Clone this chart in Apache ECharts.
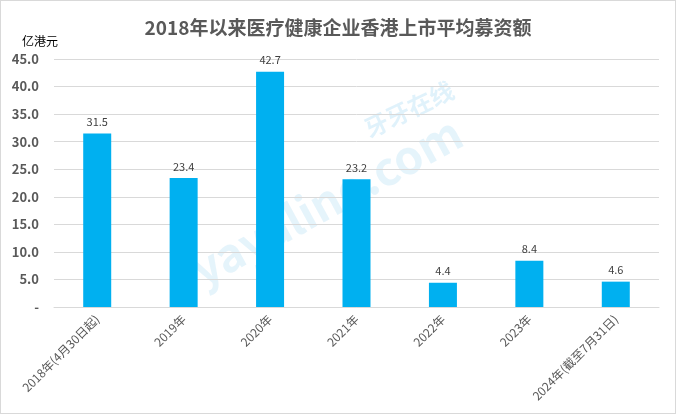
<!DOCTYPE html>
<html><head><meta charset="utf-8">
<script src="https://cdn.jsdelivr.net/npm/echarts@6/dist/echarts.min.js"></script>
<style>html,body{margin:0;padding:0;background:#fff}#c{width:676px;height:414px;box-sizing:border-box;border:1px solid #d9d9d9}</style>
</head><body><div id="c"></div>
<script>
const categories = ['2018年(4月30日起)','2019年','2020年','2021年','2022年','2023年','2024年(截至7月31日)'];
const values = [31.5, 23.4, 42.7, 23.2, 4.4, 8.4, 4.6];
const yTicks = [0,5,10,15,20,25,30,35,40,45];
const chart = echarts.init(document.getElementById('c'));
const F = '"Microsoft YaHei","Noto Sans CJK SC",sans-serif';
chart.setOption({
  animation:false,
  title:{text:'2018年以来医疗健康企业香港上市平均募资额',left:'center',top:12,
    textStyle:{fontSize:19,fontWeight:'bold',color:'#595959',fontFamily:F}},
  graphic:[
    {type:'text',x:370,y:140,rotation:0.45,style:{text:'牙牙在线',fontSize:24,fontWeight:'bold',fill:'rgba(0,150,220,0.12)',fontFamily:F,verticalAlign:'bottom'}},
    {type:'text',x:205,y:292,rotation:0.5,style:{text:'yayaline.com',fontSize:46,fontWeight:'bold',fill:'rgba(0,150,220,0.10)',fontFamily:F,verticalAlign:'bottom'}}
  ],
  grid:{left:53,right:16,top:58,bottom:106},
  xAxis:{type:'category',data:categories,
    axisLine:{lineStyle:{color:'#d9d9d9',width:1}},axisTick:{show:false},
    axisLabel:{rotate:45,fontSize:12,color:'#595959',fontFamily:F,interval:0,margin:10}},
  yAxis:{type:'value',min:0,max:45,interval:5,name:'亿港元',
    nameLocation:'end',nameGap:12,nameTextStyle:{fontSize:12,color:'#000',align:'right',padding:[0,-4,0,0],fontFamily:F},
    axisLine:{show:false},axisTick:{show:false},
    splitLine:{lineStyle:{color:'#d9d9d9'}},
    axisLabel:{fontSize:13,fontWeight:'bold',color:'#595959',margin:15,fontFamily:F,
      formatter:v=> v===0?'-':v.toFixed(1)}},
  series:[{type:'bar',data:values,barWidth:28,itemStyle:{color:'#00B0F0'},
    label:{show:true,position:'top',distance:6,fontSize:11,color:'#404040',fontFamily:F,formatter:p=>p.value.toFixed(1)}}]
});
</script></body></html>
